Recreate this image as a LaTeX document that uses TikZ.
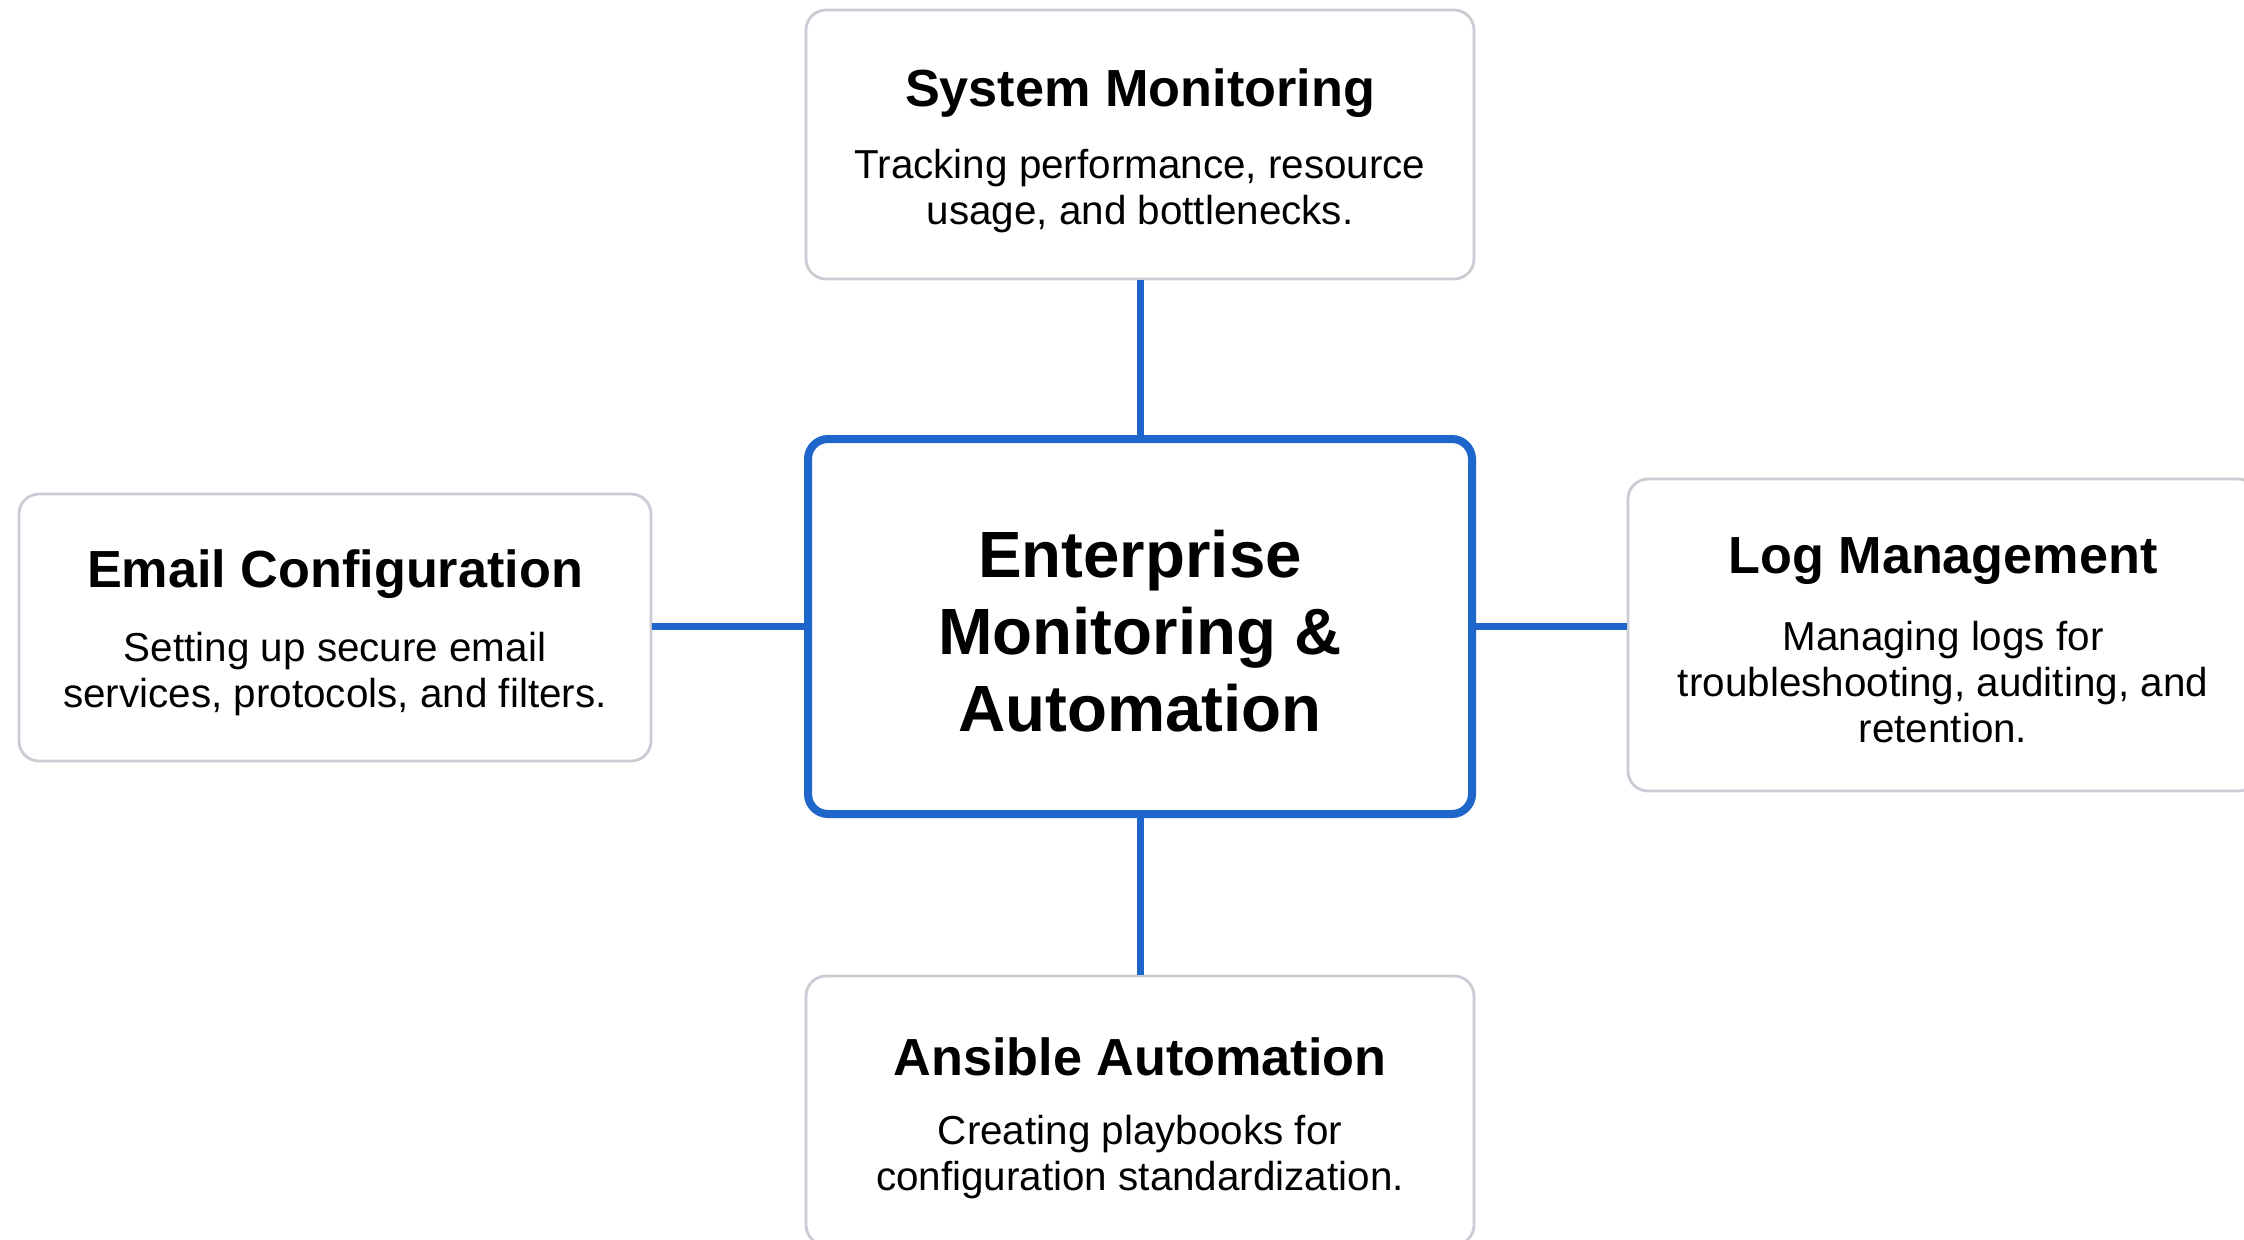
\documentclass[tikz,border=0pt]{standalone}
\usepackage{fontspec}
\setmainfont{Liberation Sans}
\definecolor{hubblue}{HTML}{1E66C9}
\definecolor{boxgray}{HTML}{C9CDD3}
\begin{document}
\begin{tikzpicture}[x=0.5pt,y=-0.5pt,
  card/.style={draw=boxgray, line width=1.4pt, rounded corners=10pt, fill=white, inner sep=0pt},
  hub/.style={draw=hubblue, line width=4pt, rounded corners=10pt, fill=white, inner sep=0pt},
  link/.style={draw=hubblue, line width=3.5pt},
  ttl/.style={font=\fontsize{26.1pt}{30pt}\selectfont\bfseries, inner sep=0pt, align=center},
  body/.style={font=\fontsize{20.2pt}{23pt}\selectfont, inner sep=0pt, align=center},
  hubttl/.style={font=\fontsize{32.7pt}{38.5pt}\selectfont\bfseries, inner sep=0pt, align=center}]
\clip (0,0) rectangle (2244,1239);
\fill[white] (0,0) rectangle (2244,1239);
% boxes
\node[card, minimum width=334pt, minimum height=134.5pt] (top) at (1140,144.5) {};
\node[hub, minimum width=332pt, minimum height=187.5pt] (hubbox) at (1140,626.5) {};
\node[card, minimum width=316pt, minimum height=133.5pt] (left) at (335,627.5) {};
\node[card, minimum width=315pt, minimum height=156pt] (right) at (1943,635) {};
\node[card, minimum width=334pt, minimum height=134.5pt] (bottom) at (1140,1110.5) {};
% connectors
\draw[link] (hubbox.north) -- (top.south);
\draw[link] (hubbox.south) -- (bottom.north);
\draw[link] (hubbox.west) -- (hubbox.west -| left.east);
\draw[link] (hubbox.east) -- (hubbox.east -| right.west);
% texts
\node[ttl] (topT) at (1140,93) {System Monitoring};
\node[body] (topB) at (1140,191.5) {Tracking performance, resource\\usage, and bottlenecks.};
\node[hubttl] (hubT) at (1140,631) {Enterprise\\Monitoring \&\\Automation};
\node[ttl] (leftT) at (335,574) {Email Configuration};
\node[body] (leftB) at (335,674) {Setting up secure email\\services, protocols, and filters.};
\node[ttl] (rightT) at (1943,561) {Log Management};
\node[body] (rightB) at (1943,682) {Managing logs for\\troubleshooting, auditing, and\\retention.};
\node[ttl] (botT) at (1140,1057) {Ansible Automation};
\node[body] (botB) at (1140,1157) {Creating playbooks for\\configuration standardization.};
\end{tikzpicture}
\end{document}
